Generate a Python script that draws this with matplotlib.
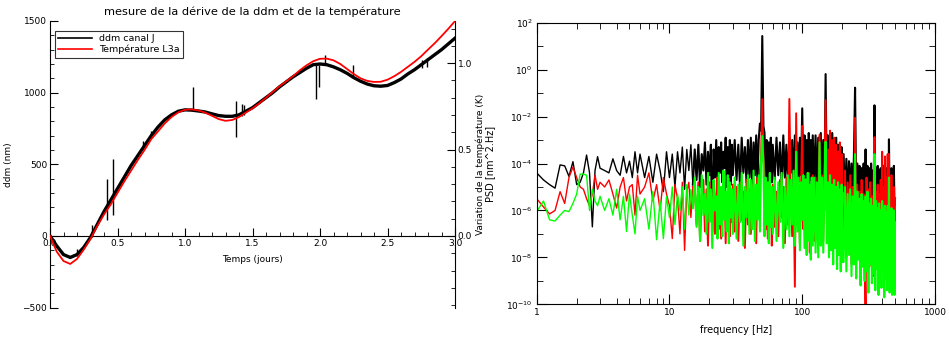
import matplotlib
matplotlib.use("Agg")
import matplotlib.pyplot as plt
from matplotlib.lines import Line2D
from matplotlib.ticker import MultipleLocator, LogLocator, NullFormatter, FixedLocator
import numpy as np

plt.rcParams['font.family'] = ['DejaVu Sans']

# ---- left panel: drift of ddm and temperature ----
t_days = [0.00, 0.05, 0.10, 0.15, 0.20, 0.25, 0.30, 0.35, 0.40, 0.45,
          0.50, 0.55, 0.60, 0.65, 0.70, 0.75, 0.80, 0.85, 0.90, 0.95,
          1.00, 1.05, 1.10, 1.15, 1.20, 1.25, 1.30, 1.35, 1.40, 1.45,
          1.50, 1.55, 1.60, 1.65, 1.70, 1.75, 1.80, 1.85, 1.90, 1.95,
          2.00, 2.05, 2.10, 2.15, 2.20, 2.25, 2.30, 2.35, 2.40, 2.45,
          2.50, 2.55, 2.60, 2.65, 2.70, 2.75, 2.80, 2.85, 2.90, 2.95, 3.00]
ddm_nm = [0, -70, -130, -150, -130, -80, -10, 80, 170, 250,
          330, 410, 490, 560, 630, 700, 760, 810, 845, 870,
          880, 878, 872, 865, 852, 840, 835, 835, 845, 870,
          895, 930, 965, 1000, 1040, 1075, 1110, 1140, 1170, 1195,
          1200, 1195, 1180, 1160, 1135, 1105, 1080, 1060, 1048, 1045,
          1050, 1070, 1095, 1130, 1160, 1195, 1230, 1265, 1300, 1340, 1380]
temp_K = [0.000, -0.091, -0.145, -0.162, -0.133, -0.079, -0.017, 0.058, 0.124, 0.182,
          0.249, 0.315, 0.377, 0.439, 0.497, 0.560, 0.605, 0.651, 0.688, 0.715,
          0.730, 0.732, 0.726, 0.713, 0.695, 0.676, 0.666, 0.671, 0.688, 0.713,
          0.738, 0.767, 0.800, 0.833, 0.866, 0.895, 0.924, 0.958, 0.987, 1.011,
          1.025, 1.026, 1.016, 0.995, 0.966, 0.937, 0.912, 0.897, 0.891, 0.892,
          0.904, 0.924, 0.949, 0.978, 1.007, 1.040, 1.078, 1.115, 1.156, 1.198, 1.243]

# glitches in the ddm signal
spike_t = [0.20, 0.31, 0.425, 0.47, 0.69, 0.75, 1.057, 1.375, 1.42, 1.44,
           1.97, 1.995, 2.04, 2.247, 2.753, 2.79]
spike_lo = [-140, -10, 110, 146, 610, 690, 872, 693, 840, 845,
            953, 1037, 1190, 1100, 1170, 1180]
spike_hi = [-90, 77, 397, 540, 660, 735, 1042, 941, 920, 915,
            1190, 1195, 1262, 1192, 1227, 1245]

# ---- right panel: PSD ----
freq = [1.0, 1.125, 1.25, 1.375, 1.5, 1.625, 1.75, 1.875, 2.0, 2.125, 2.25, 2.375, 2.5, 2.625, 2.75, 2.875, 3.0,
        3.25, 3.5, 3.75, 4.0, 4.25, 4.5, 4.75, 5.0, 5.25, 5.5, 5.75, 6.0,
        6.5, 7.0, 7.5, 8.0, 8.5, 9.0, 9.5, 10.0, 10.5, 11.0, 11.5, 12.0, 12.5, 13.0, 13.5, 14.0, 14.5, 15.0,
        15.5, 16, 16.5, 17, 17.5, 18, 18.5, 19, 19.5, 20, 20.5, 21, 21.5, 22, 22.5,
        23, 23.5, 24, 24.5, 25, 25.5, 26, 26.5, 27, 27.5, 28, 28.5, 29, 29.5, 30,
        31, 32, 33, 34, 35, 36, 37, 38, 39, 40, 41, 42, 43, 44, 45,
        46, 47, 48, 49, 50, 51, 52, 53, 54, 55, 56, 57, 58, 59, 60,
        62, 64, 66, 68, 70, 72, 74, 76, 78, 80, 82, 84, 86, 88, 90,
        92, 94, 96, 98, 100, 102, 104, 106, 108, 110, 112, 114, 116, 118, 120,
        123, 126, 129, 132, 135, 138, 141, 144, 147, 150, 153, 156, 159, 162,
        165, 168, 171, 174, 177, 180, 183, 186, 189, 192, 195, 198, 201,
        205, 210, 215, 220, 225, 230, 235, 240, 245, 250, 255, 260, 265, 270, 275, 280, 285, 290,
        295, 300, 305, 310, 315, 320, 325, 330, 335, 340, 345, 350, 355, 360, 365, 370, 375, 380,
        385, 390, 395, 400, 405, 410, 415, 420, 425, 430, 435, 440, 445, 450, 455, 460, 465, 470,
        475, 480, 485, 490, 495, 500]

# log10 of PSD values
psd_black = [-4.4, -4.7, -4.9, -5.05, -4.06, -4.1, -4.55, -3.92, -4.9, -4.8, -4.4, -3.64, -4.4, -6.7, -4.3, -3.71, -4.2,
             -4.3, -4.4, -3.8, -4.3, -4.5, -3.7, -4.4, -3.9, -4.6, -3.5, -4.4, -3.6,
             -4.6, -3.7, -4.8, -3.6, -4.3, -5.2, -3.5, -4.6, -3.6, -5.0, -3.5, -4.4, -3.3, -5.1, -3.4, -4.3, -3.2, -4.9,
             -3.4, -4.7, -3.2, -5.0, -3.6, -4.3, -3.1, -4.9, -3.5, -4.5, -3.2, -6.9, -3.4, -4.6, -3.0,
             -5.1, -3.3, -4.4, -3.1, -4.8, -3.5, -4.2, -2.9, -5.0, -3.3, -4.6, -3.0, -4.9, -3.2, -4.5,
             -3.0, -4.7, -3.2, -5.0, -2.9, -4.4, -3.3, -4.8, -3.0, -4.6, -2.9, -5.1, -3.1, -4.5, -2.8,
             -4.9, -3.0, -2.3, -2.6, 1.43, -2.4, -2.7, -4.6, -3.0, -4.9, -3.1, -4.4, -2.9, -4.8, -3.2,
             -4.7, -2.9, -4.5, -3.1, -5.0, -2.8, -4.6, -3.2, -4.9, -2.9, -4.4, -3.0, -5.1, -2.8, -4.6,
             -3.1, -4.8, -2.9, -4.5, -1.65, -4.9, -2.8, -4.6, -3.0, -5.0, -2.7, -4.7, -3.0, -4.9, -2.8,
             -4.8, -2.8, -5.1, -2.9, -4.7, -2.7, -5.2, -3.0, -4.9, -0.19, -5.0, -2.8, -5.3, -3.0,
             -4.8, -2.7, -5.2, -3.1, -4.9, -2.9, -5.4, -3.2, -5.0, -3.4, -5.5, -3.3, -5.2,
             -3.6, -5.6, -3.8, -5.7, -3.9, -5.5, -4.0, -5.8, -3.7, -0.77, -5.6, -4.0, -5.7, -4.1, -5.5,
             -4.2, -5.8, -4.0, -5.6, -3.4, -5.7, -4.1, -5.9, -4.2, -5.6, -4.0, -5.8, -4.3, -5.5, -1.52,
             -5.7, -4.2, -5.9, -4.1, -5.6, -4.3, -5.8, -4.2, -5.6, -4.4, -5.9, -4.1, -5.7, -4.3, -5.8,
             -4.2, -5.6, -4.4, -5.9, -2.97, -5.7, -4.3, -5.8, -4.2, -5.9, -4.4, -5.6, -4.1, -5.8, -5.5]
psd_red = [-5.5, -5.85, -6.15, -6.0, -5.2, -5.7, -4.6, -4.15, -4.6, -5.0, -5.1, -5.5, -5.8, -5.3, -4.5, -5.1, -4.8,
           -5.0, -4.7, -5.3, -5.9, -5.0, -4.6, -5.6, -5.0, -4.9, -6.2, -4.5, -5.3,
           -5.0, -4.4, -5.6, -4.9, -6.0, -4.6, -5.3, -5.8, -7.2, -4.9, -5.5, -7.0, -4.8, -7.7, -5.2, -4.8, -6.3, -5.0,
           -5.0, -6.6, -4.8, -7.3, -5.3, -4.7, -6.9, -5.1, -7.5, -4.8, -5.9, -6.4, -4.9, -7.0, -5.4,
           -4.6, -6.8, -5.2, -7.2, -5.0, -6.2, -4.8, -7.4, -5.3, -6.0, -4.7, -7.1, -5.5, -6.5, -4.9,
           -6.9, -5.0, -7.3, -4.8, -6.4, -5.2, -7.6, -4.7, -6.6, -5.1, -7.0, -4.9, -6.2, -5.3, -7.4,
           -4.6, -6.0, -4.3, -3.7, -1.26, -3.8, -4.4, -6.8, -5.0, -7.2, -4.8, -6.5, -5.1, -7.5, -4.9,
           -6.7, -5.2, -7.1, -4.7, -6.3, -5.0, -7.4, -4.6, -6.6, -1.25, -5.5, -7.1, -4.8, -9.25, -1.86,
           -6.6, -4.9, -7.4, -5.0, -2.4, -6.8, -4.7, -7.5, -5.0, -6.5, -4.4, -7.8, -5.2, -6.9, -4.5,
           -7.3, -4.6, -7.0, -5.1, -2.78, -6.9, -4.5, -7.3, -4.2, -1.3, -6.0, -3.4, -6.8, -2.6,
           -5.9, -3.0, -7.0, -2.9, -6.3, -3.2, -7.5, -3.5, -6.1, -3.1, -7.2, -3.6, -6.5,
           -7.6, -4.3, -8.0, -4.8, -7.2, -4.5, -8.3, -5.0, -7.5, -2.05, -8.1, -4.9, -7.4, -5.2, -8.6,
           -4.7, -7.8, -5.3, -8.2, -10.3, -4.6, -7.9, -5.1, -8.4, -4.8, -7.6, -5.4, -8.8, -4.9, -2.88,
           -8.0, -5.2, -7.7, -4.9, -8.5, -5.3, -7.9, -4.7, -8.3, -3.5, -7.6, -5.0, -8.7, -3.7, -7.8,
           -4.6, -8.2, -3.6, -7.5, -3.6, -8.4, -5.0, -7.7, -4.5, -8.9, -5.2, -7.6, -5.0, -8.1, -5.5]
psd_green = [-6.05, -5.6, -6.4, -6.45, -6.2, -6.0, -6.05, -5.7, -5.3, -4.45, -4.45, -4.5, -6.0, -5.1, -5.6, -5.8, -5.4,
             -6.0, -5.5, -6.2, -5.1, -6.4, -5.4, -6.9, -5.3, -6.2, -7.0, -5.4, -6.0,
             -5.5, -6.8, -5.2, -7.25, -5.6, -7.2, -5.4, -6.3, -5.0, -6.6, -5.3, -6.0, -5.0, -6.8, -4.9, -6.2, -5.1, -5.9,
             -4.6, -6.7, -5.0, -7.3, -4.5, -6.2, -5.3, -7.0, -4.4, -6.5, -5.1, -7.6, -4.7, -6.0, -5.4,
             -7.2, -4.4, -6.6, -5.0, -7.1, -4.3, -6.4, -5.2, -6.9, -4.5, -7.4, -4.8, -6.3, -5.1, -7.0,
             -4.6, -7.2, -4.9, -6.5, -4.4, -7.5, -5.0, -6.3, -4.5, -7.0, -4.7, -6.8, -4.3, -7.3, -4.9,
             -6.4, -4.5, -6.9, -3.9, -2.83, -4.0, -7.1, -4.6, -6.6, -4.8, -7.4, -4.4, -6.7, -5.0, -7.0,
             -4.6, -7.3, -4.8, -6.5, -4.4, -7.6, -5.0, -6.8, -4.5, -7.1, -4.7, -6.6, -4.3, -7.5, -3.5,
             -6.9, -4.6, -7.7, -4.8, -6.4, -4.5, -7.6, -4.7, -7.9, -4.4, -7.3, -4.9, -8.1, -4.6, -7.5,
             -4.6, -7.8, -4.8, -8.0, -3.1, -7.5, -4.6, -7.8, -4.9, -3.07, -7.4, -4.8, -8.0, -4.5,
             -7.7, -4.9, -8.3, -4.7, -7.6, -5.0, -8.5, -4.8, -7.9, -5.1, -8.6, -4.9, -8.2,
             -8.2, -5.0, -8.6, -5.3, -7.9, -5.1, -8.8, -5.4, -8.3, -3.6, -8.9, -5.2, -8.1, -5.5, -9.2,
             -5.3, -8.4, -5.6, -9.0, -5.4, -8.6, -5.2, -9.5, -5.7, -8.3, -5.5, -9.1, -5.8, -8.7, -3.6,
             -9.4, -5.6, -8.5, -5.9, -9.6, -5.7, -8.8, -6.0, -9.3, -5.6, -8.6, -5.9, -9.7, -5.8, -8.9,
             -6.1, -9.4, -5.8, -8.7, -4.6, -9.5, -6.0, -8.8, -5.9, -9.6, -6.2, -9.0, -6.0, -9.6, -6.5]

assert len(freq) == len(psd_black) == len(psd_red) == len(psd_green), \
    (len(freq), len(psd_black), len(psd_red), len(psd_green))

W, H = 949, 337
fig = plt.figure(figsize=(W / 100, H / 100), dpi=100)

# left panel
ax = fig.add_axes([50 / W, 1 - 307.6 / H, 405 / W, 286.6 / H])
ax.plot(t_days, ddm_nm, color='black', lw=2.4, zorder=2)
ax.vlines(spike_t, spike_lo, spike_hi, color='black', lw=1.0, zorder=2)
ax.set_xlim(0, 3)
ax.set_ylim(-500, 1500)
ax.spines['top'].set_visible(False)
ax.spines['right'].set_visible(False)
ax.spines['bottom'].set_position(('data', 0))
ax.xaxis.set_major_locator(MultipleLocator(0.5))
ax.xaxis.set_minor_locator(MultipleLocator(0.1))
ax.yaxis.set_major_locator(MultipleLocator(500))
ax.yaxis.set_minor_locator(MultipleLocator(100))
ax.xaxis.set_major_formatter(plt.FuncFormatter(lambda v, p: f"{v:.1f}"))
ax.tick_params(which='both', direction='in', labelsize=6.5, pad=2)
ax.tick_params(which='major', length=6)
ax.tick_params(which='minor', length=3)
ax.set_ylabel('ddm (nm)', fontsize=6.5)
ax.yaxis.set_label_coords(-0.092, 0.5)
ax.text(0.5, 0.168, 'Temps (jours)', transform=ax.transAxes, ha='center', va='center', fontsize=6.5)
ax.set_title('mesure de la dérive de la ddm et de la température', fontsize=8.2, pad=4)

ax2 = ax.twinx()
ax2.plot(t_days, temp_K, color='#ff0000', lw=1.3, zorder=3)
ax2.set_ylim(-500 * 0.000829, 1500 * 0.000829)
for s in ('top', 'bottom', 'left'):
    ax2.spines[s].set_visible(False)
ax2.yaxis.set_major_locator(FixedLocator([0.0, 0.5, 1.0]))
ax2.yaxis.set_minor_locator(MultipleLocator(0.1))
ax2.yaxis.set_major_formatter(plt.FuncFormatter(lambda v, p: f"{v:.1f}"))
ax2.tick_params(which='both', direction='in', labelsize=6.5, pad=2)
ax2.tick_params(which='major', length=6)
ax2.tick_params(which='minor', length=3)
ax2.set_ylabel('Variation de la température (K)', fontsize=6.5)
ax2.yaxis.set_label_coords(1.05, 0.5)

handles = [Line2D([], [], color='black', lw=1.2), Line2D([], [], color='#ff0000', lw=1.2)]
leg = ax2.legend(handles, ['ddm canal J', 'Température L3a'], loc='upper left',
                 bbox_to_anchor=(0.012, 0.966), fontsize=6.8, frameon=True, fancybox=False,
                 edgecolor='black', handlelength=3.6, borderpad=0.35, labelspacing=0.2,
                 handletextpad=0.7, borderaxespad=0)
leg.get_frame().set_linewidth(0.8)

# right panel: sparse low-frequency part with thin lines, dense part drawn thicker
bx = fig.add_axes([536.7 / W, 1 - 304.3 / H, 398.3 / W, 281.6 / H])
f = np.array(freq)
n_low = 47
for vals, col, lw_dense in [(psd_black, 'black', 1.5), (psd_red, '#ff0000', 1.4), (psd_green, '#00ff00', 1.5)]:
    p = 10 ** np.array(vals)
    bx.plot(f[:n_low], p[:n_low], color=col, lw=1.0)
    bx.plot(f[n_low - 1:], p[n_low - 1:], color=col, lw=lw_dense)
bx.set_xscale('log')
bx.set_yscale('log')
bx.set_xlim(1, 1000)
bx.set_ylim(1e-10, 1e2)
bx.xaxis.set_major_locator(LogLocator(base=10, numticks=10))
bx.xaxis.set_minor_locator(LogLocator(base=10, subs=np.arange(2, 10), numticks=10))
bx.xaxis.set_minor_formatter(NullFormatter())
bx.xaxis.set_major_formatter(plt.FuncFormatter(lambda v, p: f"{int(round(v))}"))
bx.yaxis.set_major_locator(FixedLocator([1e-10, 1e-8, 1e-6, 1e-4, 1e-2, 1e0, 1e2]))
bx.yaxis.set_minor_locator(FixedLocator([1e-9, 1e-7, 1e-5, 1e-3, 1e-1, 1e1]))
bx.yaxis.set_minor_formatter(NullFormatter())
bx.yaxis.set_major_formatter(plt.FuncFormatter(lambda v, p: r"$10^{%d}$" % int(round(np.log10(v)))))
bx.tick_params(which='both', direction='in', top=True, right=True, labelsize=6.5, pad=3)
bx.tick_params(which='major', length=7)
bx.tick_params(which='minor', length=4)
bx.set_xlabel('frequency [Hz]', fontsize=7)
bx.xaxis.set_label_coords(0.5, -0.075)
bx.set_ylabel('PSD [nm^2.Hz]', fontsize=7)
bx.yaxis.set_label_coords(-0.105, 0.5)

fig.savefig('out.png', dpi=100)
